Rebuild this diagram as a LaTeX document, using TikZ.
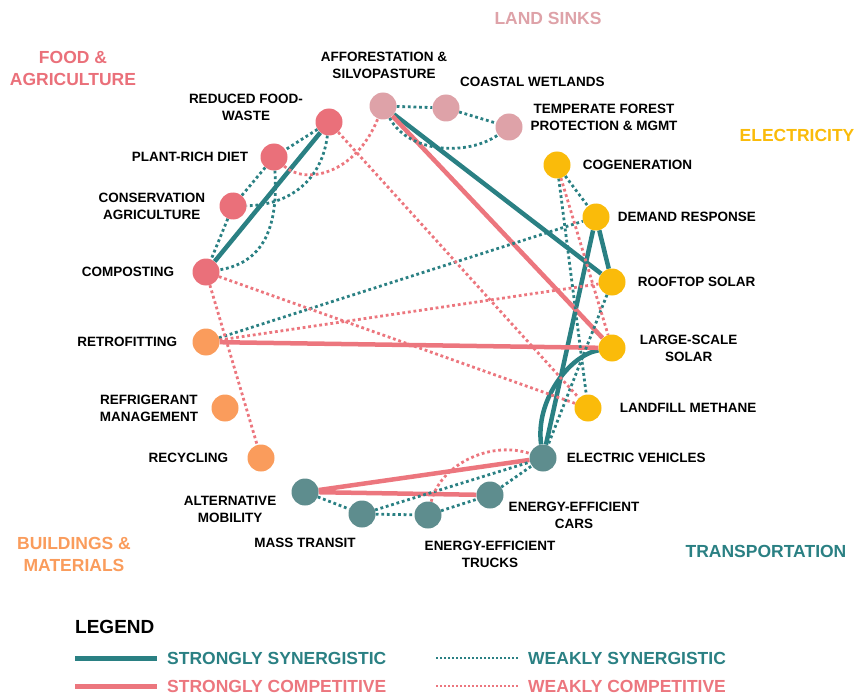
\documentclass[tikz,border=0pt]{standalone}
\usepackage{fontspec}
\setmainfont{Liberation Sans}
\usetikzlibrary{positioning,backgrounds}
\definecolor{foodc}{RGB}{234,112,122}
\definecolor{landc}{RGB}{222,162,168}
\definecolor{elecc}{RGB}{250,187,10}
\definecolor{buildc}{RGB}{250,156,92}
\definecolor{transc}{RGB}{94,141,142}
\definecolor{syn}{RGB}{42,128,131}
\definecolor{comp}{RGB}{236,118,126}

\begin{document}
\begin{tikzpicture}[x=1pt,y=-1pt,
  sol/.style={circle,minimum size=27pt,inner sep=0pt},
  lbl/.style={font=\fontsize{13.5}{17}\selectfont\bfseries,align=center,inner sep=0pt},
  sector/.style={font=\fontsize{17.5}{22}\selectfont\bfseries,align=center,inner sep=0pt},
  legtxt/.style={font=\fontsize{17.5}{20}\selectfont\bfseries,anchor=west,inner sep=0pt},
  strongsyn/.style={draw=syn,line width=4.5pt},
  strongcomp/.style={draw=comp,line width=4.5pt},
  weaksyn/.style={draw=syn,line width=2.8pt,dash pattern=on 2.8pt off 2.8pt},
  weakcomp/.style={draw=comp,line width=2.8pt,dash pattern=on 2.8pt off 2.8pt}]
\useasboundingbox (0,0) rectangle (860,698);

% sector titles
\node[sector,text=foodc] (foodT) at (73,68) {FOOD \&\\AGRICULTURE};
\node[sector,text=landc] (landT) at (548,18) {LAND SINKS};
\node[sector,text=elecc] (elecT) at (797,135) {ELECTRICITY};
\node[sector,text=buildc] (buildT) at (74,554) {BUILDINGS \&\\MATERIALS};
\node[sector,text=syn] (transT) at (766,551) {TRANSPORTATION};

% food & agriculture
\node[sol,fill=foodc] (rfw) at (329,122) {};
\node[sol,fill=foodc] (prd) at (274,157) {};
\node[sol,fill=foodc] (cag) at (233,206) {};
\node[sol,fill=foodc] (cmp) at (206,272) {};
% land sinks
\node[sol,fill=landc] (aff) at (383,106) {};
\node[sol,fill=landc] (cwl) at (446,108) {};
\node[sol,fill=landc] (tfp) at (509,127) {};
% electricity
\node[sol,fill=elecc] (cog) at (557,165) {};
\node[sol,fill=elecc] (dre) at (596,217) {};
\node[sol,fill=elecc] (rts) at (612,282) {};
\node[sol,fill=elecc] (lss) at (612,348) {};
\node[sol,fill=elecc] (lfm) at (588,408) {};
% buildings & materials
\node[sol,fill=buildc] (rtf) at (206,342) {};
\node[sol,fill=buildc] (rfm) at (225,408) {};
\node[sol,fill=buildc] (rcy) at (261,458) {};
% transportation
\node[sol,fill=transc] (evh) at (543,458) {};
\node[sol,fill=transc] (eec) at (490,495) {};
\node[sol,fill=transc] (eet) at (428,515) {};
\node[sol,fill=transc] (mst) at (362,514) {};
\node[sol,fill=transc] (alt) at (305,492) {};

% solution labels
\node[lbl] (rfwT) at (246,107) {REDUCED FOOD-\\WASTE};
\node[lbl,left=12pt of prd] (prdT) {PLANT-RICH DIET};
\node[lbl,left=14pt of cag] (cagT) {CONSERVATION\\AGRICULTURE};
\node[lbl,left=18pt of cmp] (cmpT) {COMPOSTING};
\node[lbl] (affT) at (384,65) {AFFORESTATION \&\\SILVOPASTURE};
\node[lbl,anchor=west] (cwlT) at (460,82) {COASTAL WETLANDS};
\node[lbl] (tfpT) at (604,117) {TEMPERATE FOREST\\PROTECTION \& MGMT};
\node[lbl,right=12pt of cog] (cogT) {COGENERATION};
\node[lbl,right=8pt of dre] (dreT) {DEMAND RESPONSE};
\node[lbl,right=12pt of rts] (rtsT) {ROOFTOP SOLAR};
\node[lbl,right=14pt of lss] (lssT) {LARGE-SCALE\\SOLAR};
\node[lbl,right=18pt of lfm] (lfmT) {LANDFILL METHANE};
\node[lbl,left=15pt of rtf] (rtfT) {RETROFITTING};
\node[lbl,left=13pt of rfm] (rfmT) {REFRIGERANT\\MANAGEMENT};
\node[lbl,left=19pt of rcy] (rcyT) {RECYCLING};
\node[lbl,right=10pt of evh] (evhT) {ELECTRIC VEHICLES};
\node[lbl] (eecT) at (574,515) {ENERGY-EFFICIENT\\CARS};
\node[lbl] (eetT) at (490,554) {ENERGY-EFFICIENT\\TRUCKS};
\node[lbl] (mstT) at (305,543) {MASS TRANSIT};
\node[lbl] (altT) at (230,509) {ALTERNATIVE\\MOBILITY};

\begin{scope}[on background layer]
% strongly synergistic
\draw[strongsyn] (cmp) -- (rfw);
\draw[strongsyn] (aff) -- (rts);
\draw[strongsyn] (dre) -- (rts);
\draw[strongsyn] (dre) -- (evh);
\draw[strongsyn] (lss) .. controls (570,355) and (535,400) .. (evh);
% strongly competitive
\draw[strongcomp] (aff) -- (lss);
\draw[strongcomp] (rtf) -- (lss);
\draw[strongcomp] (alt) -- (evh);
\draw[strongcomp] (alt) -- (eec);
% weakly synergistic
\draw[weaksyn] (rfw) -- (prd);
\draw[weaksyn] (prd) -- (cag);
\draw[weaksyn] (cag) -- (cmp);
\draw[weaksyn] (rfw) .. controls (322,180) and (290,205) .. (cag);
\draw[weaksyn] (prd) .. controls (278,220) and (268,262) .. (cmp);
\draw[weaksyn] (aff) -- (cwl);
\draw[weaksyn] (cwl) -- (tfp);
\draw[weaksyn] (aff) .. controls (410,155) and (470,155) .. (tfp);
\draw[weaksyn] (cog) -- (dre);
\draw[weaksyn] (cog) -- (lfm);
\draw[weaksyn] (rtf) -- (dre);
\draw[weaksyn] (rts) -- (evh);
\draw[weaksyn] (alt) -- (mst);
\draw[weaksyn] (mst) -- (eet);
\draw[weaksyn] (eet) -- (eec);
\draw[weaksyn] (mst) -- (evh);
\draw[weaksyn] (eec) -- (evh);
% weakly competitive
\draw[weakcomp] (prd) .. controls (305,185) and (355,175) .. (aff);
\draw[weakcomp] (rfw) -- (lfm);
\draw[weakcomp] (cmp) -- (lfm);
\draw[weakcomp] (cmp) -- (rcy);
\draw[weakcomp] (rtf) -- (rts);
\draw[weakcomp] (cog) -- (lss);
\draw[weakcomp] (eet) .. controls (440,465) and (490,440) .. (evh);
\end{scope}

% legend
\node[font=\fontsize{19}{22}\selectfont\bfseries,anchor=west,inner sep=0pt] (legT) at (75,627) {LEGEND};
\coordinate (ssA) at (75,658);  \coordinate (ssB) at (157,658);
\coordinate (scA) at (75,686);  \coordinate (scB) at (157,686);
\coordinate (wsA) at (436,658); \coordinate (wsB) at (518,658);
\coordinate (wcA) at (436,686); \coordinate (wcB) at (518,686);
\draw[strongsyn,line width=5pt] (ssA) -- (ssB);
\draw[strongcomp,line width=5pt] (scA) -- (scB);
\draw[weaksyn,line width=2.2pt,dash pattern=on 2pt off 2pt] (wsA) -- (wsB);
\draw[weakcomp,line width=2.2pt,dash pattern=on 2pt off 2pt] (wcA) -- (wcB);
\node[legtxt,text=syn] (ssT) at (167,658) {STRONGLY SYNERGISTIC};
\node[legtxt,text=comp] (scT) at (167,686) {STRONGLY COMPETITIVE};
\node[legtxt,text=syn] (wsT) at (528,658) {WEAKLY SYNERGISTIC};
\node[legtxt,text=comp] (wcT) at (528,686) {WEAKLY COMPETITIVE};
\end{tikzpicture}
\end{document}
